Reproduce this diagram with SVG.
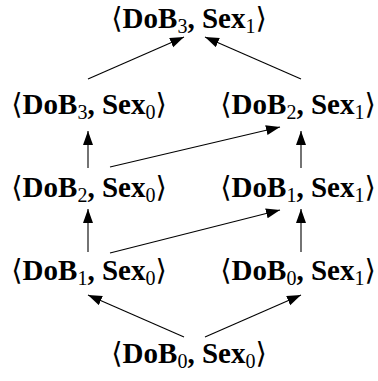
<svg xmlns="http://www.w3.org/2000/svg" width="378" height="381" viewBox="0 0 378 381">
<style>
.n{font-family:"Liberation Serif","DejaVu Serif",serif;font-size:29px;font-weight:bold;fill:#000;text-anchor:middle}
.s{font-size:20px;font-weight:normal}
.b{font-weight:normal}
.c line{stroke:#000;stroke-width:1.1;fill:none;marker-end:url(#ah)}
</style>
<defs>
<marker id="ah" markerUnits="userSpaceOnUse" markerWidth="15" markerHeight="11" refX="14" refY="5" orient="auto">
<path d="M0,0 L14,5 L0,10 z" fill="#000"/>
</marker>
</defs>
<rect width="378" height="381" fill="#fff"/>
<g id="n_dob3_sex1"><text class="n" x="189" y="28"><tspan class="b">⟨</tspan>DoB<tspan class="s" dy="5">3</tspan><tspan dy="-5">, Sex</tspan><tspan class="s" dy="5">1</tspan><tspan class="b" dy="-5">⟩</tspan></text></g>
<g id="n_dob3_sex0"><text class="n" x="89" y="114"><tspan class="b">⟨</tspan>DoB<tspan class="s" dy="5">3</tspan><tspan dy="-5">, Sex</tspan><tspan class="s" dy="5">0</tspan><tspan class="b" dy="-5">⟩</tspan></text></g>
<g id="n_dob2_sex1"><text class="n" x="298" y="114"><tspan class="b">⟨</tspan>DoB<tspan class="s" dy="5">2</tspan><tspan dy="-5">, Sex</tspan><tspan class="s" dy="5">1</tspan><tspan class="b" dy="-5">⟩</tspan></text></g>
<g id="n_dob2_sex0"><text class="n" x="89" y="197"><tspan class="b">⟨</tspan>DoB<tspan class="s" dy="5">2</tspan><tspan dy="-5">, Sex</tspan><tspan class="s" dy="5">0</tspan><tspan class="b" dy="-5">⟩</tspan></text></g>
<g id="n_dob1_sex1"><text class="n" x="298" y="197"><tspan class="b">⟨</tspan>DoB<tspan class="s" dy="5">1</tspan><tspan dy="-5">, Sex</tspan><tspan class="s" dy="5">1</tspan><tspan class="b" dy="-5">⟩</tspan></text></g>
<g id="n_dob1_sex0"><text class="n" x="89" y="280"><tspan class="b">⟨</tspan>DoB<tspan class="s" dy="5">1</tspan><tspan dy="-5">, Sex</tspan><tspan class="s" dy="5">0</tspan><tspan class="b" dy="-5">⟩</tspan></text></g>
<g id="n_dob0_sex1"><text class="n" x="298" y="280"><tspan class="b">⟨</tspan>DoB<tspan class="s" dy="5">0</tspan><tspan dy="-5">, Sex</tspan><tspan class="s" dy="5">1</tspan><tspan class="b" dy="-5">⟩</tspan></text></g>
<g id="n_dob0_sex0"><text class="n" x="189" y="363"><tspan class="b">⟨</tspan>DoB<tspan class="s" dy="5">0</tspan><tspan dy="-5">, Sex</tspan><tspan class="s" dy="5">0</tspan><tspan class="b" dy="-5">⟩</tspan></text></g>
<g id="connectors" class="c">
<line x1="88" y1="79" x2="184" y2="37"/>
<line x1="301" y1="79" x2="205" y2="37"/>
<line x1="88" y1="168" x2="88" y2="131"/>
<line x1="301" y1="168" x2="301" y2="131"/>
<line x1="110" y1="167" x2="280" y2="127"/>
<line x1="88" y1="252" x2="88" y2="209"/>
<line x1="301" y1="252" x2="301" y2="209"/>
<line x1="110" y1="253" x2="280" y2="210"/>
<line x1="184" y1="337" x2="88" y2="295"/>
<line x1="205" y1="337" x2="301" y2="295"/>
</g>
</svg>
